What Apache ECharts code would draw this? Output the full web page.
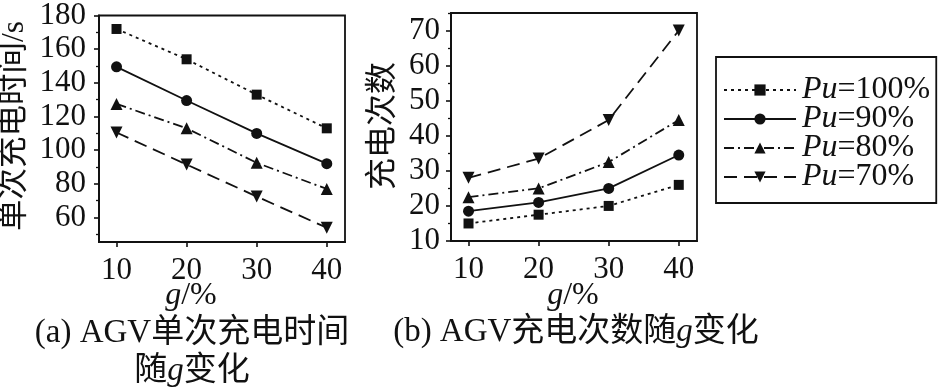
<!DOCTYPE html>
<html>
<head>
<meta charset="utf-8">
<script src="https://cdn.jsdelivr.net/npm/echarts@6/dist/echarts.min.js"></script>
<style>
html,body{margin:0;padding:0;background:#fff;}
#c{width:942px;height:388px;}
</style>
</head>
<body>
<div id="c"></div>
<script>
// ---- data ----
var gValues = [10, 20, 30, 40];
var seriesNames = ['Pu=100%', 'Pu=90%', 'Pu=80%', 'Pu=70%'];
var timePu100 = [172, 154, 133, 113];
var timePu90 = [149.5, 129.5, 110, 92];
var timePu80 = [127.5, 113, 92.5, 77];
var timePu70 = [110.5, 91.5, 72.5, 54];
var countPu100 = [15, 17.5, 20, 26];
var countPu90 = [18.5, 21, 25, 34.5];
var countPu80 = [22.5, 25, 32.5, 44.5];
var countPu70 = [28, 33.5, 44.5, 70];
var xTicks = [10, 20, 30, 40];
var timeTicks = [60, 80, 100, 120, 140, 160, 180];
var timeMinorTicks = [50, 70, 90, 110, 130, 150, 170];
var countTicks = [10, 20, 30, 40, 50, 60, 70];
var countMinorTicks = [15, 25, 35, 45, 55, 65, 75];

var FONT = "'Liberation Serif', 'Noto Sans CJK SC', serif";
var BLACK = '#111';
var TICK_FS = 31;

function pairs(ys) { return gValues.map(function (g, i) { return [g, ys[i]]; }); }

var symbols = ['rect', 'circle', 'triangle', 'path://M0,0 L10,0 L5,9 Z'];
var symbolSizes = [10, 11, 12, 12];
var dashes = [[3, 4], 'solid', [10, 4, 2, 4], [13, 7]];

function makeSeries(idx, data, xi) {
  return {
    type: 'line',
    name: seriesNames[idx],
    xAxisIndex: xi,
    yAxisIndex: xi * 2,
    data: pairs(data),
    symbol: symbols[idx],
    symbolSize: symbolSizes[idx],
    showAllSymbol: true,
    itemStyle: { color: BLACK },
    lineStyle: { color: BLACK, width: 1.8, type: dashes[idx] },
    animation: false,
    z: 3
  };
}

function xAxisDef(gi) {
  return {
    type: 'value', gridIndex: gi, min: 7.5, max: 42.6,
    axisLine: { show: true, onZero: false, lineStyle: { color: BLACK, width: 1.8 } },
    axisTick: { show: true, inside: false, length: 5, customValues: xTicks, lineStyle: { color: BLACK, width: 1.6 } },
    axisLabel: { customValues: xTicks, color: BLACK, fontFamily: FONT, fontSize: TICK_FS, margin: 13 },
    splitLine: { show: false }
  };
}

function yAxisMajor(gi, min, max, ticks, margin) {
  return {
    type: 'value', gridIndex: gi, min: min, max: max, position: 'left',
    axisLine: { show: true, onZero: false, lineStyle: { color: BLACK, width: 1.8 } },
    axisTick: { show: true, inside: false, length: 5, customValues: ticks, lineStyle: { color: BLACK, width: 1.6 } },
    axisLabel: { customValues: ticks, color: BLACK, fontFamily: FONT, fontSize: TICK_FS, margin: margin },
    splitLine: { show: false }
  };
}
function yAxisMinor(gi, min, max, ticks) {
  return {
    type: 'value', gridIndex: gi, min: min, max: max, position: 'left', offset: 0,
    axisLine: { show: false },
    axisTick: { show: true, inside: false, length: 3, customValues: ticks, lineStyle: { color: BLACK, width: 1.3 } },
    axisLabel: { show: false },
    splitLine: { show: false }
  };
}

var chart = echarts.init(document.getElementById('c'), null, { renderer: 'canvas' });

function richText(str, fs) {
  return {
    text: str, align: 'center', verticalAlign: 'middle', fill: BLACK,
    rich: {
      i: { fontStyle: 'italic', fontFamily: FONT, fontSize: fs, fill: BLACK },
      n: { fontFamily: FONT, fontSize: fs, fill: BLACK }
    }
  };
}

var option = {
  backgroundColor: '#fff',
  animation: false,
  grid: [
    { left: 99, top: 13, width: 246, height: 229, show: true, borderColor: BLACK, borderWidth: 1.8, backgroundColor: 'transparent' },
    { left: 451, top: 13, width: 246, height: 228, show: true, borderColor: BLACK, borderWidth: 1.8, backgroundColor: 'transparent' }
  ],
  xAxis: [xAxisDef(0), xAxisDef(1)],
  yAxis: [
    yAxisMajor(0, 45.5, 180, timeTicks, 13),
    yAxisMinor(0, 45.5, 180, timeMinorTicks),
    yAxisMajor(1, 10, 75, countTicks, 11),
    yAxisMinor(1, 10, 75, countMinorTicks)
  ],
  legend: {
    orient: 'vertical',
    left: 716, top: 57,
    width: 223,
    data: seriesNames,
    itemWidth: 72, itemHeight: 14,
    itemGap: -3,
    padding: [17, 6, 10, 7],
    borderColor: BLACK, borderWidth: 1.8,
    backgroundColor: '#fff',
    selectedMode: false,
    formatter: function (name) { return '{i|Pu}{n|' + name.slice(2) + '}'; },
    textStyle: {
      color: BLACK, fontFamily: FONT, fontSize: 32, lineHeight: 30, padding: [0, 0, 0, 1],
      rich: {
        i: { fontStyle: 'italic', fontFamily: FONT, fontSize: 32, color: BLACK, lineHeight: 30 },
        n: { fontFamily: FONT, fontSize: 32, color: BLACK, lineHeight: 30 }
      }
    }
  },
  series: [
    makeSeries(0, timePu100, 0), makeSeries(1, timePu90, 0), makeSeries(2, timePu80, 0), makeSeries(3, timePu70, 0),
    makeSeries(0, countPu100, 1), makeSeries(1, countPu90, 1), makeSeries(2, countPu80, 1), makeSeries(3, countPu70, 1)
  ],
  graphic: [
    { type: 'text', x: 15, y: 126, rotation: Math.PI / 2,
      style: { text: '单次充电时间/s', font: "31.5px " + FONT, fill: BLACK, align: 'center', verticalAlign: 'middle' } },
    { type: 'text', x: 384, y: 126, rotation: Math.PI / 2,
      style: { text: '充电次数', font: "32px " + FONT, fill: BLACK, align: 'center', verticalAlign: 'middle' } },
    { type: 'text', x: 191, y: 296, style: richText('{i|g}{n|/%}', 32) },
    { type: 'text', x: 573, y: 296, style: richText('{i|g}{n|/%}', 32) },
    { type: 'text', x: 192, y: 333, style: richText('{n|(a) AGV单次充电时间}', 33) },
    { type: 'text', x: 192, y: 371, style: richText('{n|随}{i|g}{n|变化}', 33) },
    { type: 'text', x: 576, y: 332, style: richText('{n|(b) AGV充电次数随}{i|g}{n|变化}', 33) }
  ]
};
chart.setOption(option);
</script>
</body>
</html>
